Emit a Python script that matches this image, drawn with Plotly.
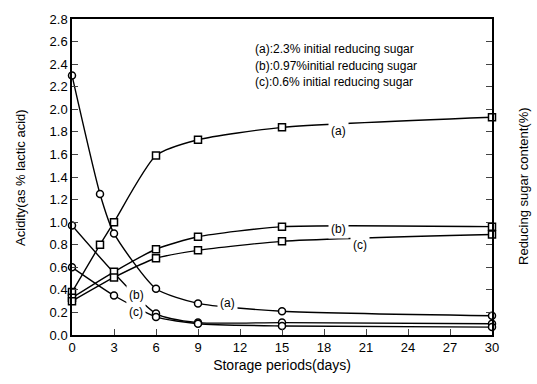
import plotly.graph_objects as go

# Reducing sugar (circles)
days_ca = [0, 2, 3, 6, 9, 15, 30]
sugar_a = [2.30, 1.25, 0.90, 0.41, 0.28, 0.21, 0.17]
days_cb = [0, 6, 9, 15, 30]
sugar_b = [0.97, 0.19, 0.11, 0.11, 0.10]
days_cc = [0, 3, 6, 9, 15, 30]
sugar_c = [0.60, 0.35, 0.16, 0.10, 0.08, 0.07]

# Acidity (squares)
days_sa = [0, 2, 3, 6, 9, 15, 30]
acid_a = [0.38, 0.80, 1.00, 1.59, 1.73, 1.84, 1.93]
days_sb = [0, 3, 6, 9, 15, 30]
acid_b = [0.33, 0.56, 0.76, 0.87, 0.96, 0.96]
days_sc = [0, 3, 6, 9, 15, 30]
acid_c = [0.30, 0.51, 0.68, 0.75, 0.83, 0.89]

x_ticks = [0, 3, 6, 9, 12, 15, 18, 21, 24, 27, 30]
y_ticks = [round(0.2 * i, 1) for i in range(15)]

legend_lines = ["(a):2.3% initial reducing sugar",
                "(b):0.97%initial reducing sugar",
                "(c):0.6% initial reducing sugar"]

FONT = "Liberation Sans, Arial, sans-serif"
fig = go.Figure()

def add(x, y, sym):
    fig.add_trace(go.Scatter(
        x=x, y=y, mode="lines+markers",
        line=dict(color="black", width=1.4, shape="spline", smoothing=0.6),
        marker=dict(symbol=sym, size=7, color="white",
                    line=dict(color="black", width=1.5)),
        showlegend=False, cliponaxis=False))

add(days_ca, sugar_a, "circle")
add(days_cb, sugar_b, "circle")
add(days_cc, sugar_c, "circle")
add(days_sa, acid_a, "square")
add(days_sb, acid_b, "square")
add(days_sc, acid_c, "square")

labels = [("(a)", 19.0, 1.81), ("(b)", 19.0, 0.94), ("(c)", 20.6, 0.80),
          ("(a)", 11.1, 0.28), ("(b)", 4.6, 0.355), ("(c)", 4.6, 0.20)]
for t, x, y in labels:
    fig.add_annotation(x=x, y=y, text=t, showarrow=False, bgcolor="white",
                       borderpad=2, font=dict(family=FONT, size=12, color="black"))

for i, t in enumerate(legend_lines):
    fig.add_annotation(x=12.9, y=2.53 - 0.142 * i, text=t, showarrow=False,
                       xanchor="left", font=dict(family=FONT, size=12, color="black"))

fig.add_annotation(xref="paper", yref="paper", x=-0.124, y=0.5,
                   text="Acidity(as % lactic acid)", textangle=-90,
                   showarrow=False, xanchor="center",
                   font=dict(family=FONT, size=13, color="black"))
fig.add_annotation(xref="paper", yref="paper", x=1.075, y=0.47,
                   text="Reducing sugar content(%)", textangle=-90,
                   showarrow=False, xanchor="center",
                   font=dict(family=FONT, size=13, color="black"))

fig.update_layout(
    width=537, height=384,
    margin=dict(l=72, r=45, t=12, b=49),
    paper_bgcolor="white", plot_bgcolor="white",
    font=dict(family=FONT, size=13, color="black"),
    xaxis=dict(range=[0, 30], tickvals=x_ticks, ticks="inside", ticklen=6,
               showline=True, linecolor="black", linewidth=1.5, mirror=True,
               showgrid=False, zeroline=False, tickfont=dict(size=13),
               title=dict(text="Storage periods(days)", standoff=6,
                          font=dict(size=14))),
    yaxis=dict(range=[0, 2.8], tickvals=y_ticks, tickformat=".1f",
               ticks="inside", ticklen=6, tickfont=dict(size=13),
               showline=True, linecolor="black", linewidth=1.5, mirror="ticks",
               showgrid=False, zeroline=False),
)

fig.write_html("out.html")
